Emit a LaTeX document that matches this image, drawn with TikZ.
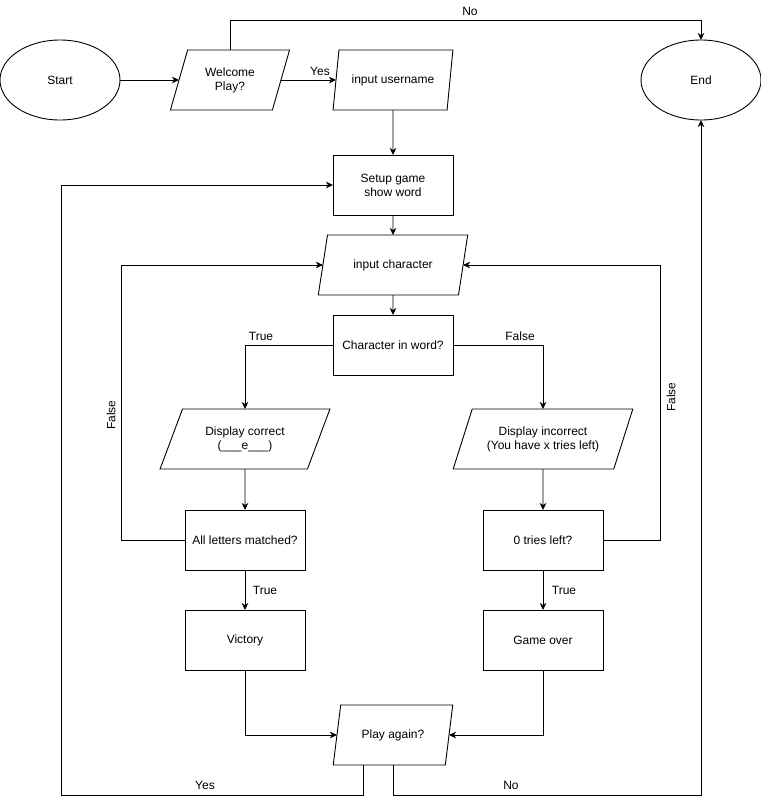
\documentclass[tikz,border=0pt]{standalone}
\usepackage{fontspec}
\setmainfont{Liberation Sans}
\usetikzlibrary{shapes.geometric,arrows.meta}
\begin{document}
\begin{tikzpicture}[x=1pt,y=-1pt,
 base/.style={draw, line width=0.9pt, outer sep=0pt, inner sep=0pt, font=\fontsize{12}{14}\selectfont, align=center},
 term/.style={base, ellipse, minimum width=120pt, minimum height=80pt},
 proc/.style={base, rectangle, minimum width=120pt, minimum height=60pt},
 io/.style={base, trapezium, trapezium stretches=true, minimum height=60pt, trapezium left angle=#1, trapezium right angle={180-#1}},
 conn/.style={line width=0.9pt, -{Stealth[length=7pt,width=6.5pt,inset=2pt]}},
 lbl/.style={font=\fontsize{12}{14}\selectfont, inner sep=0pt}
]
\useasboundingbox (0,0) rectangle (761,804);
\node[term] (start) at (60,80) {Start};
\node[term] (end) at (701,80) {End};
\node[io=68.2, minimum width=120pt] (wel) at (230,80) {Welcome\\Play?};
\node[io=68.2, minimum width=120pt] (user) at (393,80) {input username};
\node[proc] (setup) at (393,185) {Setup game\\show word};
\node[io=63.43, minimum width=150pt] (inch) at (393,265) {input character};
\node[proc] (ciw) at (393,345) {Character in word?};
\node[io=60.46, minimum width=170pt] (dc) at (245,439) {Display correct\\(\_\_\_e\_\_\_)};
\node[io=59.04, minimum width=180pt] (di) at (543,439) {Display incorrect\\(You have x tries left)};
\node[proc] (alm) at (245,540) {All letters matched?};
\node[proc] (tl) at (543,540) {0 tries left?};
\node[proc] (vic) at (245,640) {Victory};
\node[proc] (go) at (543,640) {Game over};
\node[io=68.2, minimum width=120pt] (pa) at (393,735) {Play again?};
\coordinate (yb) at (61,795);
\coordinate (nb) at (701,795);

\draw[conn] (start.east) -- (wel.left side);
\draw[conn] (wel.right side) -- (user.left side);
\draw[conn] (wel.north) -- ++(0,-30) -| (end.north);
\draw[conn] (user.south) -- (setup.north);
\draw[conn] (setup.south) -- (inch.north);
\draw[conn] (inch.south) -- (ciw.north);
\draw[conn] (ciw.west) -| (dc.north);
\draw[conn] (ciw.east) -| (di.north);
\draw[conn] (dc.south) -- (alm.north);
\draw[conn] (di.south) -- (tl.north);
\draw[conn] (alm.south) -- (vic.north);
\draw[conn] (tl.south) -- (go.north);
\draw[conn] (alm.west) -- ++(-64,0) |- (inch.left side);
\draw[conn] (tl.east) -- ++(57,0) |- (inch.right side);
\draw[conn] (vic.south) |- (pa.left side);
\draw[conn] (go.south) |- (pa.right side);
\draw[conn] ([xshift=-30pt]pa.south) |- (yb) |- (setup.west);
\draw[conn] (pa.south) |- (nb) -- (end.south);

\node[lbl] (lno1) at (470,11) {No};
\node[lbl] (lyes1) at (320,71) {Yes};
\node[lbl] (ltrue1) at (261,336) {True};
\node[lbl] (lfalse1) at (520,336) {False};
\node[lbl, rotate=90] (lfalse2) at (111,415) {False};
\node[lbl, rotate=90] (lfalse3) at (671,397) {False};
\node[lbl] (ltrue2) at (265,590) {True};
\node[lbl] (ltrue3) at (564,590) {True};
\node[lbl] (lyes2) at (205,785) {Yes};
\node[lbl] (lno2) at (511,785) {No};
\end{tikzpicture}
\end{document}
